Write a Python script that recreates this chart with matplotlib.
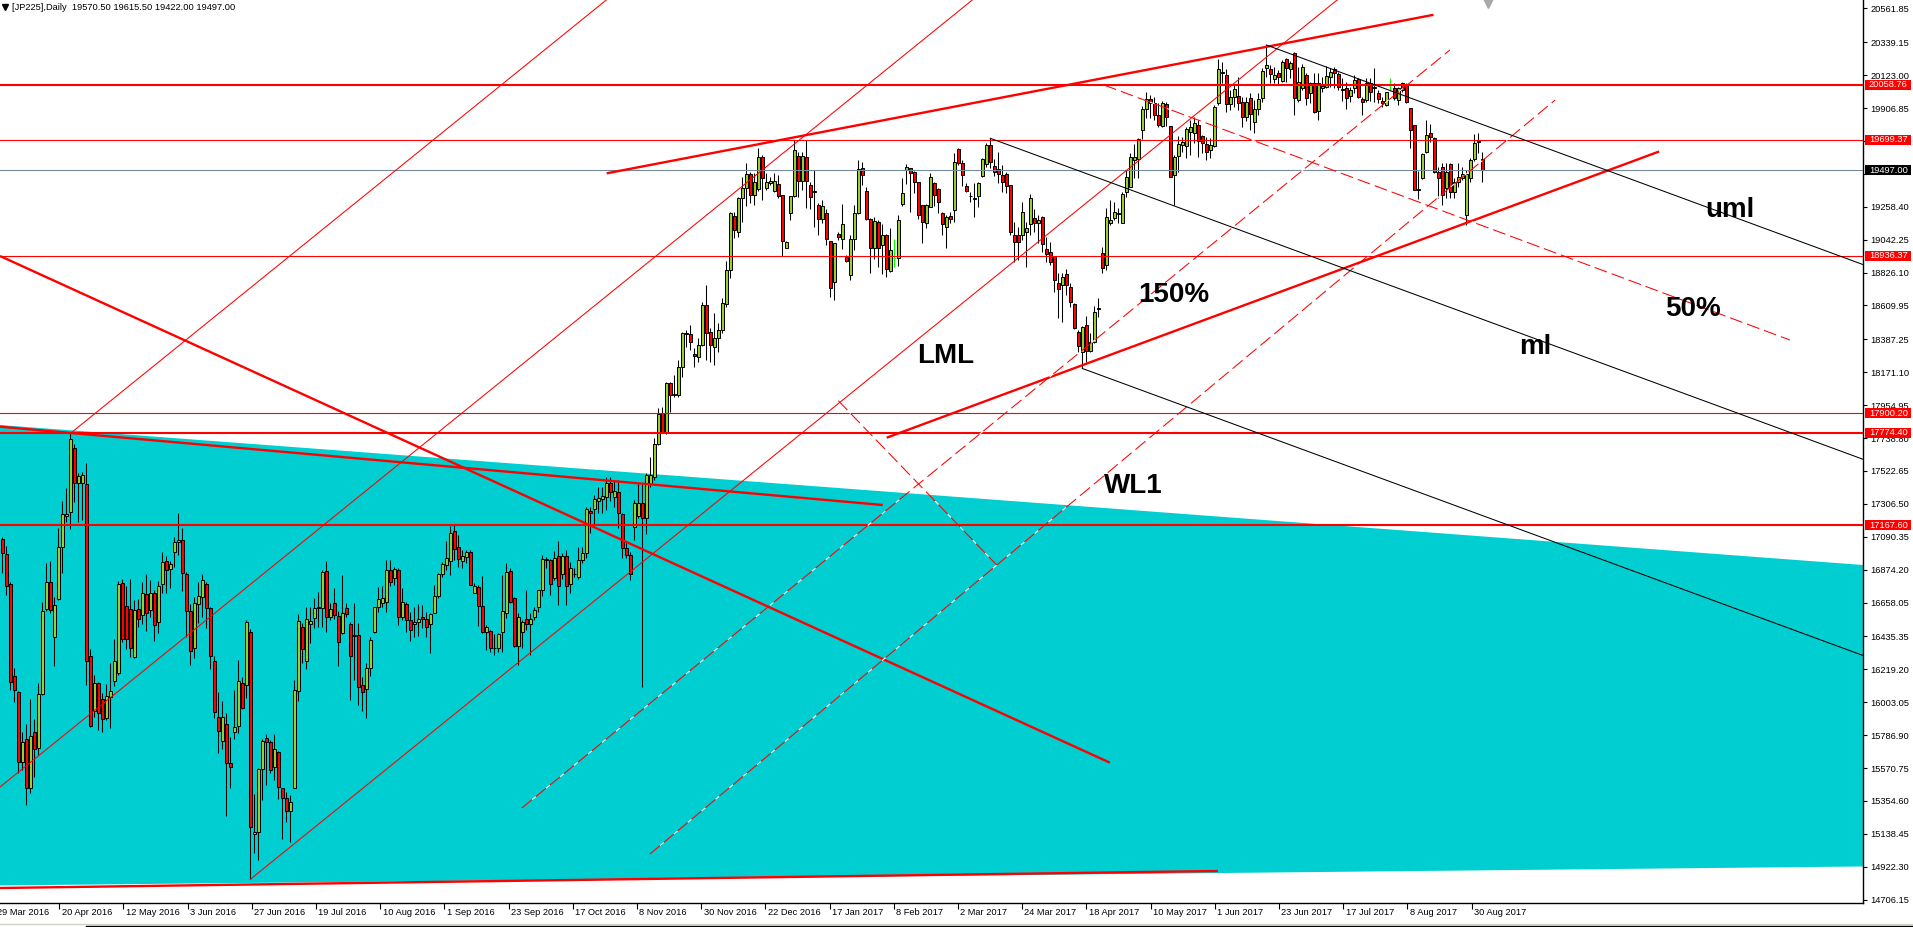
import numpy as np
import matplotlib
matplotlib.use("Agg")
import matplotlib.pyplot as plt
import matplotlib.transforms as mtransforms
from matplotlib.patches import Polygon, Rectangle
from matplotlib.lines import Line2D

plt.rcParams["font.family"] = ["Liberation Sans", "DejaVu Sans"]
plt.rcParams["lines.scale_dashes"] = False

# ---- JP225 daily candles ------------------------------------------------
opens = [
    17075, 16974, 16780, 16173, 16068, 15608, 15759, 15437, 15805, 15700,
    16055, 16613, 16790, 16429, 16679, 17023, 17228, 17250, 17671, 17445,
    17441, 17434, 16304, 15945, 16129, 16024, 15901, 16039, 16142, 16193,
    16784, 16635, 16615, 16302, 16615, 16576, 16714, 16607, 16718, 16528,
    16777, 16928, 16876, 16992, 17053, 17069, 16845, 16600, 16361, 16646,
    16692, 16780, 16620, 16274, 15906, 15748, 15858, 15606, 15809, 15847,
    16127, 16116, 16464, 15136, 15153, 15563, 15767, 15745, 15580, 15675,
    15438, 15377, 15291, 15437, 16075, 16497, 16276, 16515, 16554, 16620,
    16620, 16863, 16565, 16657, 16572, 16456, 16622, 16515, 16436, 16443,
    16114, 16088, 16226, 16462, 16626, 16657, 16664, 16872, 16821, 16872,
    16561, 16648, 16543, 16517, 16532, 16565, 16548, 16515, 16591, 16703,
    16845, 16905, 16933, 17128, 17021, 16933, 16959, 16988, 16718, 16762,
    16637, 16467, 16471, 16362, 16357, 16467, 16587, 16868, 16686, 16375,
    16467, 16548, 16515, 16565, 16631, 16740, 16937, 16937, 16817, 16963,
    16849, 16963, 16779, 16843, 16827, 16937, 16981, 17259, 17272, 17327,
    17336, 17349, 17445, 17349, 17386, 17239, 17014, 16970, 17156, 17226,
    17314, 17211, 17437, 17480, 17699, 17901, 17769, 18098, 18019, 18021,
    18207, 18430, 18420, 18288, 18273, 18350, 18613, 18433, 18334, 18393,
    18448, 18617, 18843, 19197, 19094, 19313, 19379, 19471, 19335, 19372,
    19583, 19384, 19412, 19362, 19405, 19335, 18989, 19215, 19329, 19592,
    19430, 19583, 19401, 19362, 19270, 19178, 19215, 19033, 18762, 19077,
    19046, 18930, 18810, 19044, 19215, 19511, 19362, 19175, 18985, 19160,
    19007, 19073, 18836, 18920, 18919, 19274, 19500, 19511, 19484, 19419,
    19270, 19149, 19259, 19412, 19373, 19215, 19127, 19200, 19237, 19635,
    19543, 19397, 19330, 19309, 19331, 19460, 19537, 19664, 19528, 19504,
    19467, 19473, 19401, 19072, 19072, 19072, 19090, 19143, 19182, 19149,
    19188, 18980, 18963, 18934, 18755, 18744, 18814, 18729, 18619, 18437,
    18306, 18481, 18312, 18371, 18584, 18952, 18875, 19149, 19182, 19211,
    19153, 19357, 19390, 19565, 19570, 19762, 19900, 19964, 19937, 19861,
    19788, 19933, 19788, 19467, 19591, 19664, 19657, 19751, 19740, 19795,
    19723, 19670, 19631, 19657, 19942, 20134, 20124, 19933, 19981, 19988,
    19948, 19850, 19970, 19817, 19900, 19970, 20172, 20161, 20095, 20135,
    20084, 20229, 20163, 20266, 19959, 20036, 20124, 20003, 20069, 19887,
    20040, 20047, 20113, 20163, 20130, 20032, 20040, 19988, 20036, 20097,
    19966, 19959, 20069, 20036, 20003, 19953, 19927, 20058, 20036, 19959,
    20069, 20058, 19905, 19795, 19372, 19445, 19615, 19740, 19708, 19489,
    19521, 19379, 19537, 19357, 19423, 19449, 19204, 19445, 19572, 19692,
    19570.5,
]
highs = [
    17090, 17029, 16790, 16225, 16077, 15809, 15860, 16022, 15893, 16127,
    16659, 16915, 16931, 16696, 17145, 17325, 17408, 17769, 17699, 17511,
    17513, 17577, 16350, 16179, 16134, 16061, 16120, 16258, 16418, 16799,
    16810, 16766, 16812, 16674, 16679, 16790, 16845, 16806, 16740, 16799,
    16988, 16963, 16933, 17090, 17244, 17150, 16856, 16646, 16696, 16790,
    16843, 16790, 16631, 16306, 16072, 16011, 15930, 15772, 16083, 16280,
    16166, 16543, 16482, 15401, 15569, 15762, 15795, 15756, 15795, 15683,
    15438, 15416, 15394, 16149, 16580, 16521, 16631, 16631, 16686, 16725,
    16872, 16931, 16653, 16756, 16602, 16839, 16653, 16532, 16653, 16521,
    16171, 16259, 16434, 16631, 16758, 16767, 16937, 16937, 16889, 16883,
    16751, 16664, 16598, 16631, 16646, 16642, 16598, 16587, 16773, 16854,
    16927, 17064, 17161, 17167, 17102, 17003, 17003, 17003, 16784, 16773,
    16835, 16510, 16478, 16451, 16460, 16839, 16915, 16883, 16697, 16587,
    16543, 16740, 16587, 16631, 16740, 16970, 16955, 16944, 17000, 17064,
    16981, 17003, 16922, 16882, 17025, 17025, 17287, 17287, 17364, 17419,
    17419, 17485, 17485, 17458, 17463, 17244, 17058, 16992, 17331, 17437,
    17435, 17506, 17616, 17736, 17933, 17944, 18109, 18105, 18153, 18251,
    18437, 18448, 18481, 18328, 18393, 18634, 18744, 18459, 18562, 18492,
    18656, 18902, 19226, 19226, 19324, 19456, 19543, 19489, 19482, 19642,
    19598, 19478, 19452, 19478, 19467, 19335, 19035, 19329, 19697, 19620,
    19620, 19697, 19423, 19500, 19281, 19302, 19241, 19033, 19022, 19094,
    19276, 18941, 19073, 19270, 19565, 19554, 19390, 19182, 19193, 19171,
    19145, 19079, 19116, 19046, 19204, 19445, 19539, 19511, 19495, 19423,
    19270, 19276, 19482, 19423, 19379, 19226, 19204, 19226, 19613, 19642,
    19565, 19412, 19357, 19412, 19419, 19576, 19675, 19708, 19572, 19620,
    19532, 19489, 19401, 19160, 19127, 19291, 19160, 19342, 19241, 19204,
    19197, 19061, 19024, 18934, 18821, 18825, 18847, 18755, 18623, 18448,
    18477, 18540, 18426, 18608, 18656, 18996, 19248, 19302, 19291, 19248,
    19357, 19499, 19609, 19670, 19707, 19920, 20014, 19992, 19981, 19937,
    19955, 19948, 19788, 19598, 19723, 19719, 19780, 19828, 19845, 19828,
    19729, 19719, 19707, 19926, 20227, 20211, 20161, 20025, 20058, 20108,
    19981, 19981, 20003, 19959, 20003, 20167, 20321, 20189, 20178, 20157,
    20222, 20233, 20216, 20277, 20178, 20194, 20135, 20080, 20135, 20135,
    20113, 20183, 20167, 20174, 20141, 20102, 20080, 20047, 20124, 20106,
    19981, 20106, 20102, 20167, 20025, 19981, 20014, 20102, 20069, 20047,
    20075, 20069, 19905, 19795, 19493, 19609, 19828, 19800, 19718, 19521,
    19543, 19543, 19543, 19445, 19543, 19521, 19500, 19580, 19734, 19740,
    19615.5,
]
lows = [
    16850, 16707, 16083, 16006, 15536, 15557, 15328, 15404, 15509, 15660,
    16050, 16604, 16591, 16243, 16672, 16850, 17189, 17139, 17320, 17189,
    17200, 16116, 15842, 15908, 15820, 15809, 15886, 15831, 16112, 16182,
    16401, 16352, 16302, 16296, 16499, 16515, 16473, 16565, 16407, 16460,
    16718, 16723, 16755, 16893, 16970, 16736, 16433, 16247, 16296, 16521,
    16565, 16488, 16219, 15901, 15667, 15693, 15257, 15441, 15761, 15798,
    15958, 16033, 14840, 15011, 14967, 15361, 15460, 15537, 15493, 15366,
    15103, 15219, 15088, 15437, 16013, 16263, 16219, 16394, 16488, 16499,
    16499, 16467, 16543, 16548, 16243, 16452, 16565, 16018, 16149, 15985,
    15948, 15897, 16175, 16456, 16598, 16626, 16598, 16767, 16773, 16510,
    16543, 16467, 16405, 16434, 16438, 16489, 16434, 16329, 16587, 16686,
    16828, 16872, 16839, 16937, 16889, 16883, 16916, 16773, 16718, 16506,
    16460, 16346, 16331, 16313, 16335, 16335, 16554, 16653, 16368, 16248,
    16357, 16478, 16313, 16543, 16598, 16701, 16883, 16707, 16806, 16641,
    16816, 16641, 16718, 16827, 16816, 16915, 16952, 17117, 17156, 17244,
    17244, 17265, 17327, 17287, 17145, 16948, 16948, 16805, 17068, 17211,
    16103, 17108, 17419, 17463, 17693, 17769, 17765, 17912, 18010, 18010,
    18142, 18339, 18317, 18207, 18240, 18343, 18251, 18240, 18218, 18306,
    18426, 18602, 18788, 19051, 19061, 19160, 19263, 19280, 19270, 19364,
    19302, 19368, 19400, 19357, 19313, 18935, 18985, 19171, 19324, 19324,
    19368, 19248, 19241, 19127, 19073, 19149, 19007, 18667, 18645, 19040,
    18978, 18897, 18777, 18974, 19211, 19401, 19171, 18821, 18913, 18865,
    18816, 18799, 18832, 18860, 18869, 19263, 19408, 19226, 19346, 19180,
    19022, 19120, 19254, 19263, 19219, 19073, 18985, 19149, 19160, 19532,
    19394, 19357, 19292, 19193, 19254, 19456, 19521, 19515, 19460, 19416,
    19357, 19346, 19072, 18897, 18908, 19040, 18864, 19072, 19094, 19022,
    18958, 18897, 18875, 18700, 18525, 18503, 18678, 18602, 18453, 18306,
    18196, 18240, 18301, 18361, 18536, 18825, 18842, 19138, 19171, 19153,
    19149, 19324, 19390, 19445, 19445, 19701, 19839, 19839, 19828, 19780,
    19780, 19788, 19456, 19270, 19488, 19620, 19576, 19598, 19675, 19583,
    19609, 19565, 19576, 19653, 19926, 20069, 19883, 19894, 19915, 19894,
    19784, 19821, 19762, 19740, 19861, 19948, 20113, 20069, 20069, 20058,
    20080, 20080, 20106, 19861, 19948, 20025, 19926, 19937, 19872, 19828,
    20014, 20036, 20047, 20036, 20025, 19953, 19900, 19948, 20003, 19970,
    19861, 19948, 19953, 19948, 19937, 19916, 19922, 20018, 19959, 19926,
    20014, 19937, 19642, 19368, 19307, 19440, 19609, 19686, 19478, 19313,
    19270, 19313, 19313, 19313, 19390, 19434, 19138, 19423, 19558, 19609,
    19422,
]
closes = [
    16981, 16766, 16133, 16087, 15608, 15739, 15437, 15781, 15693, 16055,
    16602, 16790, 16609, 16639, 17023, 17237, 17237, 17732, 17441, 17489,
    17496, 16271, 15847, 16127, 15930, 15893, 16044, 16077, 16274, 16780,
    16420, 16416, 16361, 16609, 16547, 16718, 16587, 16718, 16510, 16766,
    16922, 16869, 16911, 17053, 17069, 16850, 16600, 16337, 16655, 16698,
    16806, 16620, 16304, 15941, 15812, 15906, 15601, 15575, 15838, 16140,
    15967, 16528, 15181, 15153, 15563, 15749, 15745, 15558, 15694, 15449,
    15377, 15291, 15346, 16083, 16534, 16350, 16548, 16534, 16620, 16629,
    16856, 16565, 16613, 16576, 16401, 16591, 16580, 16307, 16443, 16101,
    16068, 16226, 16410, 16626, 16681, 16690, 16872, 16795, 16876, 16561,
    16664, 16543, 16478, 16532, 16550, 16548, 16500, 16580, 16703, 16843,
    16911, 16948, 17113, 17008, 16942, 16964, 16988, 16775, 16769, 16637,
    16467, 16499, 16357, 16357, 16451, 16602, 16859, 16664, 16375, 16565,
    16532, 16515, 16548, 16609, 16740, 16944, 16944, 16778, 16948, 16770,
    16963, 16770, 16882, 16849, 16937, 16981, 17272, 17244, 17338, 17347,
    17358, 17441, 17386, 17390, 17244, 17014, 16970, 16849, 17309, 17314,
    17211, 17495, 17495, 17699, 17894, 17774, 18098, 18021, 18027, 18207,
    18426, 18422, 18372, 18277, 18350, 18613, 18431, 18350, 18393, 18448,
    18624, 18843, 19215, 19105, 19318, 19379, 19471, 19335, 19419, 19583,
    19445, 19419, 19427, 19427, 19331, 19035, 19024, 19329, 19631, 19430,
    19592, 19430, 19324, 19353, 19175, 19263, 19044, 18727, 19018, 19057,
    19143, 18902, 19044, 19215, 19504, 19467, 19175, 18985, 19167, 18989,
    19073, 18847, 18974, 18920, 19171, 19346, 19517, 19478, 19419, 19204,
    19156, 19270, 19451, 19335, 19287, 19143, 19189, 19178, 19550, 19543,
    19467, 19362, 19328, 19318, 19412, 19570, 19664, 19550, 19484, 19473,
    19423, 19394, 19094, 19029, 19029, 19221, 19116, 19313, 19149, 19171,
    19013, 18948, 18897, 18777, 18715, 18794, 18744, 18634, 18459, 18343,
    18466, 18312, 18371, 18569, 18590, 18853, 19188, 19171, 19221, 19215,
    19342, 19451, 19583, 19587, 19701, 19900, 19964, 19937, 19861, 19795,
    19942, 19845, 19456, 19587, 19670, 19681, 19767, 19780, 19806, 19692,
    19675, 19620, 19664, 19915, 20161, 20143, 19933, 19981, 20029, 19942,
    19845, 19944, 19865, 19900, 19966, 20150, 20189, 20128, 20124, 20113,
    20207, 20167, 20200, 19970, 20080, 20178, 19970, 20069, 19883, 20069,
    20051, 20119, 20141, 20135, 20047, 20025, 19970, 20025, 20091, 19981,
    19948, 20069, 20014, 20047, 19966, 19937, 20010, 20058, 19970, 20036,
    20025, 19944, 19762, 19368, 19368, 19605, 19729, 19718, 19489, 19445,
    19335, 19489, 19357, 19423, 19456, 19471, 19471, 19565, 19675, 19686,
    19497,
]

date_labels = [
    "29 Mar 2016", "20 Apr 2016", "12 May 2016", "3 Jun 2016", "27 Jun 2016",
    "19 Jul 2016", "10 Aug 2016", "1 Sep 2016", "23 Sep 2016", "17 Oct 2016",
    "8 Nov 2016", "30 Nov 2016", "22 Dec 2016", "17 Jan 2017", "8 Feb 2017",
    "2 Mar 2017", "24 Mar 2017", "18 Apr 2017", "10 May 2017", "1 Jun 2017",
    "23 Jun 2017", "17 Jul 2017", "8 Aug 2017", "30 Aug 2017",
]

price_ticks = [
    20561.85, 20339.15, 20123.00, 19906.85, 19690.70, 19474.55, 19258.40,
    19042.25, 18826.10, 18609.95, 18387.25, 18171.10, 17954.95, 17738.80,
    17522.65, 17306.50, 17090.35, 16874.20, 16658.05, 16435.35, 16219.20,
    16003.05, 15786.90, 15570.75, 15354.60, 15138.45, 14922.30, 14706.15,
]

# horizontal levels (price, thick?)
level_prices = [20058.76, 19699.37, 18936.37, 17900.20, 17774.40, 17167.60]
level_thick = [True, False, False, False, True, True]
last_price = 19497.00

# drawn objects: (bar, price) end points
cyan_bars = [-0.575, 465.175, 465.175, -0.575]
cyan_prices = [17824.5, 16904.8, 14924.5, 14799.7]

thick_red = [
    ([151.1, 357.8], [19477.9, 20519.1]),
    ([221.1, 414.2], [17741.1, 19621.2]),
    ([-0.575, 276.9], [18934.7, 15606.2]),
    ([-0.575, 220.1], [17813.4, 17299.0]),
    ([-0.575, 303.9], [14783.0, 14894.8]),
]
thin_red = [
    ([-0.575, 242.5], [15446.5, 20616.4]),
    ([17, 151.0], [17769, 20616.4]),
    ([62, 333.7], [14840, 20616.4]),
]
dashed_red = [
    ([129.9, 361.9], [15308.6, 20287.9]),
    ([161.9, 388.2], [15006.3, 19959.5]),
    ([209.0, 248.6], [17984.2, 16904.9]),
    ([275.4, 446.9], [20058.0, 18382.8]),
]
black_fork = [
    ([247, 465.2], [19708, 17599.2]),
    ([316, 465.2], [20321, 18878.2]),
    ([270, 465.2], [18196, 16310.3]),
]

notes = ["150%", "LML", "ml", "uml", "50%", "WL1"]
note_bars = [283.9, 228.7, 379.2, 425.7, 415.7, 275.4]
note_prices = [18632.5, 18231.8, 18290.9, 19190.9, 18540.5, 17377.9]

# ---- figure ------------------------------------------------------------
W, H = 1913, 927
PW, PH = 1863, 903
YMIN, YMAX = 14684.5, 20616.4
XMIN, XMAX = -0.575, 465.175

fig = plt.figure(figsize=(W / 100, H / 100), dpi=100)
fig.patch.set_facecolor("white")
ax = fig.add_axes([0, (H - PH) / H, PW / W, PH / H])
ax.set_xlim(XMIN, XMAX)
ax.set_ylim(YMIN, YMAX)
ax.set_facecolor("white")

ax.add_patch(Polygon(list(zip(cyan_bars, cyan_prices)), closed=True,
                     facecolor="#00CED1", edgecolor="none", zorder=1))

o = np.array(opens, float)
h = np.array(highs, float)
l = np.array(lows, float)
c = np.array(closes, float)
x = np.arange(len(o))
doji = o == c
body = ~doji

ax.vlines(x[body], l[body], h[body], colors="black", linewidth=0.75, zorder=3)
cols = np.where(c > o, "#9ACD32", "#FF0000")
ax.bar(x[body], (c - o)[body], bottom=o[body], width=0.75, color=cols[body],
       edgecolor="black", linewidth=0.7, zorder=4)
ax.vlines(x[doji], l[doji], h[doji], colors="#00FF00", linewidth=0.8, zorder=4)
ax.hlines(o[doji], x[doji] - 0.4, x[doji] + 0.4, colors="#00FF00",
          linewidth=0.8, zorder=4)

for p, thick in zip(level_prices, level_thick):
    ax.axhline(p, color="#FF0000", lw=1.5 if thick else 0.8, zorder=6)
ax.axhline(last_price, color="#778899", lw=0.8, zorder=6)

for bx, py in thick_red:
    ax.plot(bx, py, color="#FF0000", lw=1.7, zorder=7, solid_capstyle="butt")
for bx, py in thin_red:
    ax.plot(bx, py, color="#FF0000", lw=0.75, zorder=7)
for bx, py in dashed_red:
    ax.plot(bx, py, color="#FF0000", lw=0.75, zorder=7,
            linestyle=(0, (9.4, 3.6)), gapcolor="white")
for bx, py in black_fork:
    ax.plot(bx, py, color="black", lw=0.75, zorder=7)

for t, bx, py in zip(notes, note_bars, note_prices):
    ax.text(bx, py, t, fontsize=20, fontweight="bold", color="black",
            ha="left", va="baseline", zorder=8)

# ---- axes decoration (MT4 style) --------------------------------------
for s in ("left", "top"):
    ax.spines[s].set_visible(False)
for s in ("right", "bottom"):
    ax.spines[s].set_linewidth(1.0)
    ax.spines[s].set_color("black")

# scale labels that sit fully under a price box are left blank
box_levels = level_prices + [last_price]
tick_text = []
for v in price_ticks:
    hidden = any(abs(v - b) < 30 for b in box_levels)
    tick_text.append("" if hidden else f"{v:.2f}")

ax.yaxis.tick_right()
ax.set_yticks(price_ticks)
ax.set_yticklabels(tick_text)
ax.tick_params(axis="y", direction="out", length=3, width=0.8, pad=2.5,
               labelsize=6.7, colors="black")

tick_pos = [-1.85 + 16.05 * k for k in range(len(date_labels))]
ax.set_xticks([t for t in tick_pos if t >= XMIN])
ax.set_xticklabels([])
ax.tick_params(axis="x", direction="out", length=4, width=0.8)
xt = ax.get_xaxis_transform()
for t, lab in zip(tick_pos, date_labels):
    ax.text(t + 0.6, -0.0107, lab, transform=xt, ha="left", va="center",
            fontsize=6.7, clip_on=False)

# price boxes on the right scale
trans = mtransforms.blended_transform_factory(ax.transAxes, ax.transData)
box_h = 10 * (YMAX - YMIN) / PH
boxes = [(p, "#FF0000") for p in level_prices] + [(last_price, "black")]
for p, col in boxes:
    ax.add_patch(Rectangle((1865 / PW, p - box_h / 2), 46 / PW, box_h,
                           transform=trans, facecolor=col, edgecolor="none",
                           clip_on=False, zorder=20))
    ax.text(1869 / PW, p, f"{p:.2f}", transform=trans, color="white",
            fontsize=6.7, ha="left", va="center", clip_on=False, zorder=21)

# header and small markers
fig.text(12 / W, 1 - 8 / H,
         "[JP225],Daily  19570.50 19615.50 19422.00 19497.00",
         fontsize=6.7, ha="left", va="center")
ax.plot([5 / PW], [1 - 7 / PH], marker="v", markersize=4, color="black",
        transform=ax.transAxes, clip_on=False, zorder=30)
ax.plot([1488 / PW], [1 - 3 / PH], marker="v", markersize=7, color="#A9A9A9",
        transform=ax.transAxes, clip_on=False, zorder=30)

fig.add_artist(Line2D([0, 1], [1 - 923.5 / H] * 2, transform=fig.transFigure,
                      color="#D4D0C8", lw=1))
fig.add_artist(Line2D([86 / W, 1], [1 - 926 / H] * 2, transform=fig.transFigure,
                      color="black", lw=1))

fig.savefig("out.png", dpi=100)
